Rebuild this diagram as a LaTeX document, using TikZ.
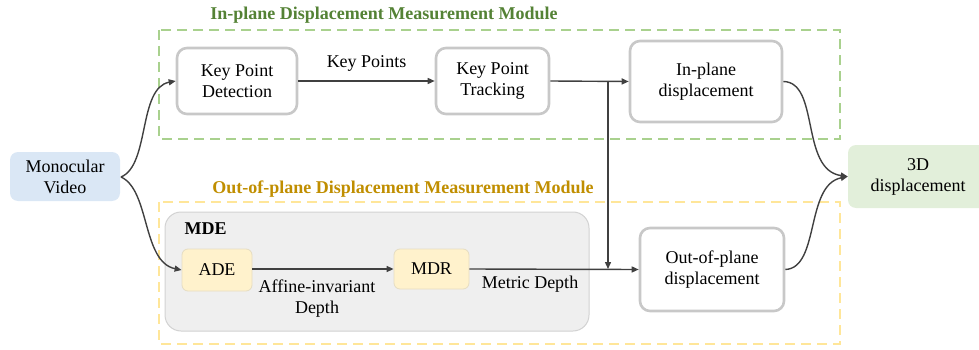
\documentclass[tikz,border=0pt]{standalone}
\usepackage{fontspec}
\setmainfont{Liberation Serif}
\usetikzlibrary{arrows.meta}
\definecolor{boxgray}{HTML}{C8C8C8}
\definecolor{arrowgray}{HTML}{404040}
\definecolor{greendash}{HTML}{A9D18E}
\definecolor{greentitle}{HTML}{548235}
\definecolor{yellowdash}{HTML}{FFE699}
\definecolor{orangetitle}{HTML}{C08E00}
\definecolor{monoblue}{HTML}{DAE7F5}
\definecolor{dgreen}{HTML}{E2EFDA}
\definecolor{mdegray}{HTML}{EFEFEF}
\definecolor{mdeborder}{HTML}{D2D2D2}
\definecolor{yfill}{HTML}{FFF2CC}
\definecolor{yborder}{HTML}{E6DDC2}
\tikzset{
  txt/.style={font=\fontsize{18}{21}\selectfont, align=center},
  procbox/.style={txt, draw=boxgray, line width=2.6pt, rounded corners=10pt, fill=white, inner sep=0pt},
  softbox/.style={txt, rounded corners=8pt, inner sep=0pt},
  subbox/.style={txt, draw=yborder, line width=0.8pt, fill=yfill, rounded corners=6pt, inner sep=0pt},
  conn/.style={draw=arrowgray, line width=1.4pt, -{Triangle[length=7pt,width=6pt]}},
  lbl/.style={txt},
  modbox/.style={dashed, dash pattern=on 10pt off 6pt, line width=1.5pt},
  modtitle/.style={font=\fontsize{18}{21}\selectfont\bfseries}
}
\begin{document}
\begin{tikzpicture}[x=1pt,y=-1pt]
\useasboundingbox (0,0) rectangle (979,350);

% module frames
\draw[modbox, draw=greendash] (159,30) rectangle (840,139);
\node[modtitle, text=greentitle] (t1) at (384,15) {In-plane Displacement Measurement Module};
\draw[modbox, draw=yellowdash] (159,202) rectangle (840,344);
\node[modtitle, text=orangetitle] (t2) at (403,189) {Out-of-plane Displacement Measurement Module};

% MDE container
\draw[draw=mdeborder, fill=mdegray, line width=1pt, rounded corners=16pt] (165,212) rectangle (589,331);
\node[modtitle, anchor=west] (mdelbl) at (181,229) {MDE};

% nodes
\node[softbox, fill=monoblue, minimum width=110pt, minimum height=49pt] (mono) at (65,176.5) {Monocular\\Video};
\node[procbox, minimum width=120pt, minimum height=66pt] (kpd) at (237,81) {Key Point\\Detection};
\node[procbox, minimum width=113pt, minimum height=66pt] (kpt) at (492.5,81) {Key Point\\Tracking};
\node[procbox, minimum width=152pt, minimum height=81pt] (inp) at (706,81.5) {In-plane\\displacement};
\node[procbox, minimum width=144pt, minimum height=83pt] (oop) at (712,269.5) {Out-of-plane\\displacement};
\node[softbox, fill=dgreen, minimum width=140pt, minimum height=63pt, text width=131pt] (d3) at (918,176.5) {3D\\displacement};
\node[subbox, minimum width=70pt, minimum height=42pt] (ade) at (217,270) {ADE};
\node[subbox, minimum width=75pt, minimum height=40pt] (mdr) at (431.5,269) {MDR};

% re-clip right edge of 3D box
\fill[white] (979,140) rectangle (990,215);

% straight connectors
\draw[conn] (kpd.east) -- (kpt.west) node[lbl, midway, above=6pt] (kplbl) {Key Points};
\coordinate (junc) at (608,81);
\coordinate (juncb) at (608,269);
\draw[conn] (kpt.east) -- (inp.west);
\draw[conn] (junc) -- (juncb);
\draw[conn] (ade.east |- mdr.west) -- (mdr.west);
\node[lbl] (aidlbl) at (317,299) {Affine-invariant\\Depth};
\draw[conn] (mdr.east) -- (oop.west);
\node[lbl] (mdlbl) at (530,284) {Metric Depth};

% curved connectors
\coordinate (monoout) at (121,177);
\draw[conn] (monoout) .. controls (150,165) and (138,88) .. (kpd.west);
\draw[conn] (monoout) .. controls (150,190) and (142,262) .. (ade.west);
\draw[conn] (inp.east) .. controls (820,82) and (800,170) .. (d3.west);
\draw[conn] (oop.east) .. controls (820,268) and (805,185) .. (d3.west);
\end{tikzpicture}
\end{document}
